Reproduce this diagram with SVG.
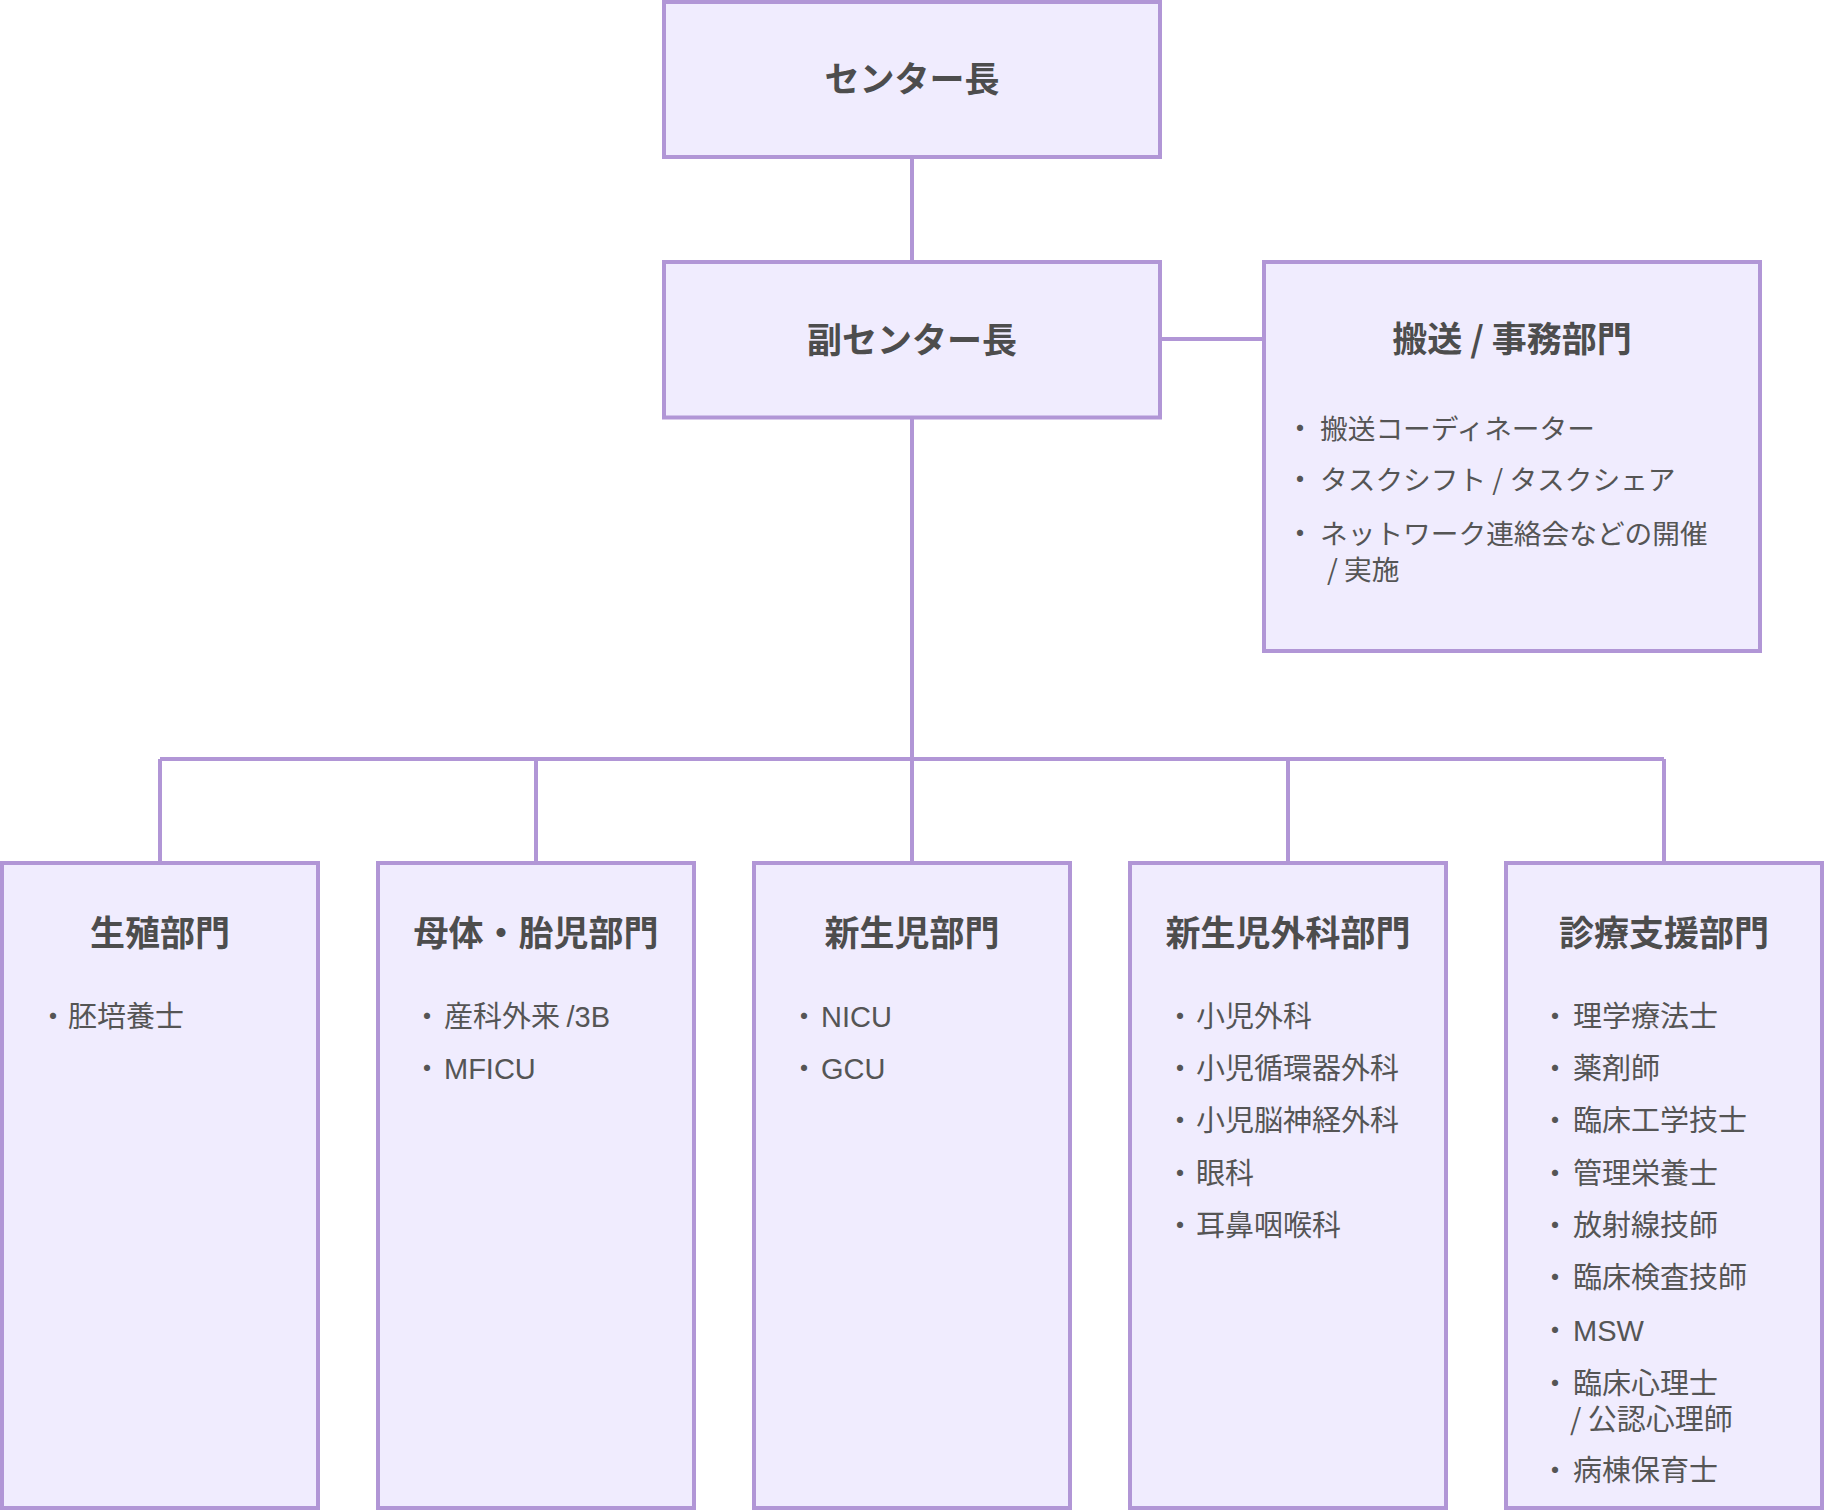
<svg xmlns="http://www.w3.org/2000/svg" width="1824" height="1510" viewBox="0 0 1824 1510">
<style>
.box{fill:#F0ECFE;stroke:#B196D6;stroke-width:4}
.ln{fill:none;stroke:#B196D6;stroke-width:4}
.t{font-family:"Noto Sans CJK JP","Noto Sans",sans-serif;font-size:35px;font-weight:700;fill:#4D4D4D;text-anchor:middle}
.i{font-family:"Noto Sans CJK JP","Noto Sans",sans-serif;font-size:29px;font-weight:400;fill:#555555}
.l{font-family:"Liberation Sans","Noto Sans CJK JP",sans-serif}
.s{font-size:27.7px}
.b{font-family:"Noto Sans CJK JP",sans-serif;font-size:29px;fill:#555555;text-anchor:middle}
</style>
<rect width="1824" height="1510" fill="#FFFFFF"/>
<g id="connectors">
<path class="ln" d="M912 157V262"/>
<path class="ln" d="M1160 339H1264"/>
<path class="ln" d="M912 417.5V863"/>
<path class="ln" d="M160 759H1664"/>
<path class="ln" d="M160 759V863M536 759V863M1288 759V863M1664 759V863"/>
</g>
<g id="center-head">
<rect class="box" x="664" y="2" width="496" height="155"/>
<text class="t" x="912" y="92">センター長</text>
</g>
<g id="vice-head">
<rect class="box" x="664" y="262" width="496" height="155.5"/>
<text class="t" x="912" y="352.5">副センター長</text>
</g>
<g id="transport">
<rect class="box" x="1264" y="262" width="496" height="389"/>
<text class="t" x="1512" y="352.3">搬送 / 事務部門</text>
<text class="b" x="1300" y="439">・</text><text class="i s" x="1320" y="439">搬送コーディネーター</text>
<text class="b" x="1300" y="490.3">・</text><text class="i s" x="1320" y="490.3">タスクシフト / タスクシェア</text>
<text class="b" x="1300" y="543.8">・</text><text class="i s" x="1320" y="543.8">ネットワーク連絡会などの開催</text>
<text class="i s" x="1327" y="579.9">/ 実施</text>
</g>
<g id="reproduction">
<rect class="box" x="2" y="863" width="316" height="645"/>
<text class="t" x="160" y="945.8">生殖部門</text>
<text class="b" x="53" y="1026.6">・</text><text class="i" x="68" y="1026.6">胚培養士</text>
</g>
<g id="maternal-fetal">
<rect class="box" x="378" y="863" width="316" height="645"/>
<text class="t" x="536" y="945.8">母体・胎児部門</text>
<text class="b" x="427" y="1026.6">・</text><text class="i" x="444" y="1026.6">産科外来 <tspan class="l">/3B</tspan></text>
<text class="b" x="427" y="1079">・</text><text class="i l" x="444" y="1079">MFICU</text>
</g>
<g id="neonatal">
<rect class="box" x="754" y="863" width="316" height="645"/>
<text class="t" x="912" y="945.8">新生児部門</text>
<text class="b" x="804" y="1026.6">・</text><text class="i l" x="821" y="1026.6">NICU</text>
<text class="b" x="804" y="1079">・</text><text class="i l" x="821" y="1079">GCU</text>
</g>
<g id="neonatal-surgery">
<rect class="box" x="1130" y="863" width="316" height="645"/>
<text class="t" x="1288" y="945.8">新生児外科部門</text>
<text class="b" x="1180" y="1026.6">・</text><text class="i" x="1196" y="1026.6">小児外科</text>
<text class="b" x="1180" y="1079">・</text><text class="i" x="1196" y="1079">小児循環器外科</text>
<text class="b" x="1180" y="1131.3">・</text><text class="i" x="1196" y="1131.3">小児脳神経外科</text>
<text class="b" x="1180" y="1183.7">・</text><text class="i" x="1196" y="1183.7">眼科</text>
<text class="b" x="1180" y="1236">・</text><text class="i" x="1196" y="1236">耳鼻咽喉科</text>
</g>
<g id="clinical-support">
<rect class="box" x="1506" y="863" width="316" height="645"/>
<text class="t" x="1664" y="945.8">診療支援部門</text>
<text class="b" x="1555" y="1026.6">・</text><text class="i" x="1573" y="1026.6">理学療法士</text>
<text class="b" x="1555" y="1079">・</text><text class="i" x="1573" y="1079">薬剤師</text>
<text class="b" x="1555" y="1131.3">・</text><text class="i" x="1573" y="1131.3">臨床工学技士</text>
<text class="b" x="1555" y="1183.7">・</text><text class="i" x="1573" y="1183.7">管理栄養士</text>
<text class="b" x="1555" y="1236">・</text><text class="i" x="1573" y="1236">放射線技師</text>
<text class="b" x="1555" y="1288.4">・</text><text class="i" x="1573" y="1288.4">臨床検査技師</text>
<text class="b" x="1555" y="1340.7">・</text><text class="i l" x="1573" y="1340.7">MSW</text>
<text class="b" x="1555" y="1394.1">・</text><text class="i" x="1573" y="1394.1">臨床心理士</text>
<text class="i" x="1570" y="1430.2">/ 公認心理師</text>
<text class="b" x="1555" y="1481.4">・</text><text class="i" x="1573" y="1481.4">病棟保育士</text>
</g>
</svg>
